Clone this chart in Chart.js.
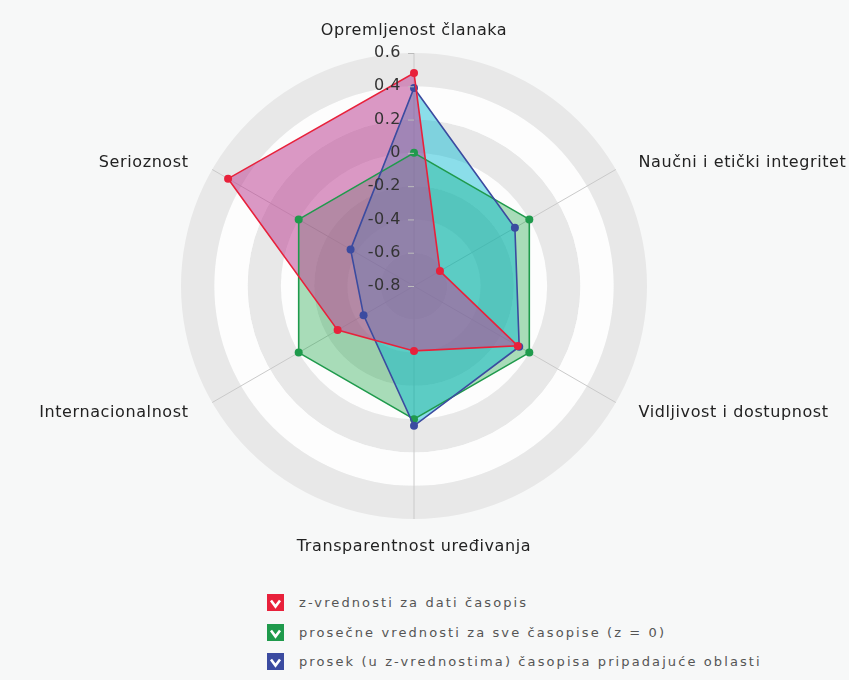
<!DOCTYPE html>
<html>
<head>
<meta charset="utf-8">
<script src="https://cdn.jsdelivr.net/npm/chart.js@4"></script>
<style>
  body { margin: 0; background: #f7f8f8; font-family: "DejaVu Sans", Verdana, sans-serif; }
  #wrap { position: absolute; left: 0; top: 0; width: 849px; height: 572px; }
  #legend { position: absolute; left: 267px; top: 588px; }
  .item { display: flex; align-items: center; height: 29.5px; }
  .box { width: 17px; height: 17px; margin-right: 15px; }
  .item span { font-size: 13px; color: #555; letter-spacing: 2.1px; }
</style>
</head>
<body>
<div id="wrap"><canvas id="radar"></canvas></div>
<div id="legend"></div>
<script>
// axes, clockwise from the top
const labels = [
  "Opremljenost članaka",
  "Naučni i etički integritet",
  "Vidljivost i dostupnost",
  "Transparentnost uređivanja",
  "Internacionalnost",
  "Serioznost"
];

const journal = [0.48, -0.62, -0.08, -0.41, -0.27, 0.49];   // z-vrednosti za dati časopis
const average = [0, 0, 0, 0, 0, 0];                          // prosek svih časopisa
const field   = [0.39, -0.10, -0.07, 0.04, -0.45, -0.36];   // prosek oblasti

const seriesNames = [
  "z-vrednosti za dati časopis",
  "prosečne vrednosti za sve časopise (z = 0)",
  "prosek (u z-vrednostima) časopisa pripadajuće oblasti"
];
const seriesColors = ["#e8213b", "#1f9a4c", "#3b4ba0"];

const scaleMin = -0.8;
const scaleMax = 0.6;
const scaleStep = 0.2;

// alternating grey / white rings behind the chart
const bands = {
  id: "bands",
  beforeDraw(chart) {
    const r = chart.scales.r;
    const ctx = chart.ctx;
    const ticks = r.ticks;
    ctx.save();
    for (let k = 0; k < ticks.length - 1; k++) {
      const inner = r.getDistanceFromCenterForValue(ticks[k].value);
      const outer = r.getDistanceFromCenterForValue(ticks[k + 1].value);
      ctx.beginPath();
      ctx.arc(r.xCenter, r.yCenter, outer, 0, Math.PI * 2);
      ctx.arc(r.xCenter, r.yCenter, inner, 0, Math.PI * 2, true);
      ctx.fillStyle = k % 2 === 0 ? "#e8e8e8" : "#fdfdfd";
      ctx.fill();
    }
    ctx.restore();
  }
};

// tick values left of the vertical axis, and the axis names
const texts = {
  id: "texts",
  afterDatasetsDraw(chart) {
    const r = chart.scales.r;
    const ctx = chart.ctx;
    ctx.save();
    ctx.font = "16px 'DejaVu Sans'";
    ctx.letterSpacing = "0.5px";
    ctx.textBaseline = "middle";
    ctx.textAlign = "right";
    r.ticks.forEach(t => {
      const y = r.yCenter - r.getDistanceFromCenterForValue(t.value);
      ctx.strokeStyle = "#bbb";
      ctx.lineWidth = 1;
      ctx.beginPath();
      ctx.moveTo(r.xCenter - 6, y + 0.5);
      ctx.lineTo(r.xCenter, y + 0.5);
      ctx.stroke();
      ctx.fillStyle = "#333";
      ctx.fillText(String(Math.round(t.value * 10) / 10), r.xCenter - 13, y);
    });

    ctx.letterSpacing = "0.6px";
    ctx.fillStyle = "#222";
    labels.forEach((name, i) => {
      const p = r.getPointPosition(i, r.drawingArea + 25);
      let x = p.x;
      let y = p.y + 3;
      if (i === 0 || i === 3) {
        ctx.textAlign = "center";
      } else if (p.x > r.xCenter) {
        ctx.textAlign = "left";
        x += 1;
      } else {
        ctx.textAlign = "right";
        x -= 2;
      }
      if (i === 1 || i === 5) y += 3;
      if (i === 2 || i === 4) y -= 5;
      ctx.fillText(name, x, y);
    });
    ctx.restore();
  }
};

new Chart(document.getElementById("radar"), {
  type: "radar",
  data: {
    labels: labels,
    datasets: [
      {
        label: seriesNames[0],
        data: journal,
        borderColor: seriesColors[0],
        backgroundColor: "rgba(190, 70, 150, 0.55)",
        pointBackgroundColor: seriesColors[0],
        order: 0
      },
      {
        label: seriesNames[1],
        data: average,
        borderColor: seriesColors[1],
        backgroundColor: "rgba(40, 170, 80, 0.4)",
        pointBackgroundColor: seriesColors[1],
        order: 2
      },
      {
        label: seriesNames[2],
        data: field,
        borderColor: seriesColors[2],
        backgroundColor: "rgba(0, 185, 210, 0.45)",
        pointBackgroundColor: seriesColors[2],
        order: 1
      }
    ]
  },
  options: {
    responsive: true,
    maintainAspectRatio: false,
    animation: false,
    layout: { padding: { left: 181, right: 202, top: 53, bottom: 52 } },
    elements: {
      line: { borderWidth: 1.6, tension: 0 },
      point: { radius: 4, borderWidth: 0, hoverRadius: 4 }
    },
    scales: {
      r: {
        min: scaleMin,
        max: scaleMax,
        ticks: { stepSize: scaleStep, display: false },
        grid: { display: false },
        angleLines: { color: "#cacaca", lineWidth: 1 },
        pointLabels: { display: false }
      }
    },
    plugins: {
      filler: { drawTime: "beforeDatasetsDraw" },
      legend: { display: false },
      tooltip: { enabled: false }
    }
  },
  plugins: [bands, texts]
});

// legend with check boxes
const legend = document.getElementById("legend");
seriesNames.forEach((name, i) => {
  const row = document.createElement("div");
  row.className = "item";
  row.innerHTML = `
    <svg class="box" viewBox="0 0 17 17">
      <rect width="17" height="17" fill="${seriesColors[i]}"/>
      <polyline points="4,6.5 8.5,12.5 13,6.5" fill="none" stroke="#fff" stroke-width="2.6"/>
    </svg>
    <span>${name}</span>
  `;
  legend.appendChild(row);
});
</script>
</body>
</html>
